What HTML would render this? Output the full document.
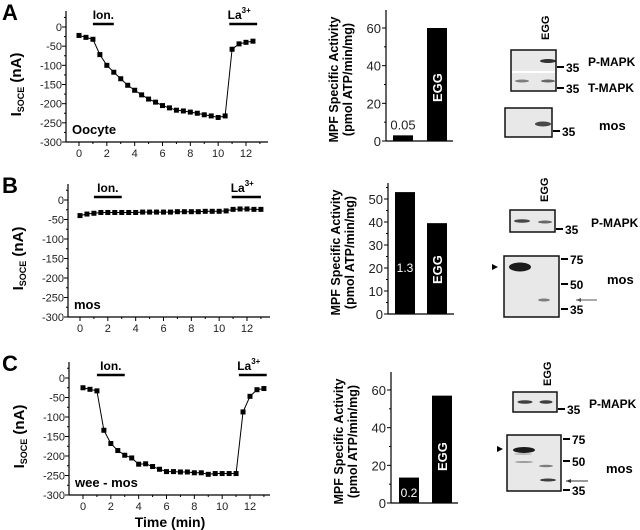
<!DOCTYPE html>
<html><head><meta charset="utf-8">
<style>
html,body{margin:0;padding:0;background:#fff;}
svg{display:block;font-family:"Liberation Sans",Arial,sans-serif;}
</style></head>
<body>
<svg id="fig" width="640" height="530" viewBox="0 0 640 530"></svg>
<script>
// ---------- DATA ----------
const timesA = [0,0.5,1,1.5,2,2.5,3,3.5,4,4.5,5,5.5,6,6.5,7,7.5,8,8.5,9,9.5,10,10.5,11,11.5,12,12.5];
const currentA = [-22,-27,-32,-72,-100,-118,-135,-152,-165,-177,-188,-196,-205,-211,-217,-219,-222,-225,-229,-232,-236,-232,-58,-44,-40,-37];
const timesB = [0,0.5,1,1.5,2,2.5,3,3.5,4,4.5,5,5.5,6,6.5,7,7.5,8,8.5,9,9.5,10,10.5,11,11.5,12,12.5,13];
const currentB = [-40,-36,-34,-32,-32,-32,-32,-32,-32,-31,-31,-31,-31,-31,-30,-30,-30,-30,-29,-29,-29,-28,-24,-23,-23,-24,-24];
const timesC = [0,0.5,1,1.5,2,2.5,3,3.5,4,4.5,5,5.5,6,6.5,7,7.5,8,8.5,9,9.5,10,10.5,11,11.5,12,12.5,13];
const currentC = [-25,-29,-33,-134,-168,-186,-198,-205,-221,-220,-227,-234,-240,-240,-241,-241,-243,-243,-247,-245,-245,-245,-245,-87,-47,-30,-27];
const yTicks = [0,-50,-100,-150,-200,-250,-300];
const xTicks = [0,2,4,6,8,10,12];
const barCats = ["control","EGG"];
const mpfA = [3,60];
const mpfB = [53,39.5];
const mpfC = [13.5,57];
const mpfLabelsA = ["0.05","EGG"];
const mpfLabelsB = ["1.3","EGG"];
const mpfLabelsC = ["0.2","EGG"];
const barTicksA = [0,20,40,60];
const barTicksB = [0,10,20,30,40,50];
const barTicksC = [0,20,40,60];

const NS="http://www.w3.org/2000/svg";
const svg=document.getElementById('fig');
function mk(tag,attrs,parent,text){const e=document.createElementNS(NS,tag);for(const k in attrs)e.setAttribute(k,attrs[k]);if(text!==undefined)e.textContent=text;(parent||svg).appendChild(e);return e;}

function trace(o){
  const g=mk('g',{});
  
  
  const X=t=>o.x0+(o.x12-o.x0)*t/12;
  const Y=v=>o.y0+(o.y300-o.y0)*(-v)/300;
  const ya=mk('line',{x1:o.ax,y1:o.y0-16,x2:o.ax,y2:o.y300,stroke:'#000','stroke-width':1.2},g);
  
  const xa=mk('line',{x1:o.ax,y1:o.y300,x2:o.xend,y2:o.y300,stroke:'#000','stroke-width':1.2},g);
  
  for(let v=25;v>=-300;v-=25){const y=Y(v);mk('line',{x1:o.ax-(v%50===0?4:2),y1:y,x2:o.ax,y2:y,stroke:'#000'},g);}
  yTicks.forEach(v=>{const t=mk('text',{x:o.ax-4,y:Y(v)+4,'text-anchor':'end','font-size':11,fill:'#222'},g,String(v));});
  for(let m=0;m<=13;m++){const x=X(m);mk('line',{x1:x,y1:o.y300,x2:x,y2:o.y300+(m%2===0?4:2),stroke:'#000'},g);}
  xTicks.forEach(v=>{const t=mk('text',{x:X(v),y:o.y300+15,'text-anchor':'middle','font-size':11,fill:'#222'},g,String(v));});
  const pts=o.t.map((t,i)=>X(t)+','+Y(o.v[i])).join(' ');
  const pl=mk('polyline',{points:pts,fill:'none',stroke:'#000','stroke-width':1},g);
  
  o.t.forEach((t,i)=>{const r=mk('rect',{x:X(t)-2.5,y:Y(o.v[i])-2.5,width:5,height:5,fill:'#000'},g);});
  const ib=mk('line',{x1:X(o.ion[0]),y1:o.barY,x2:X(o.ion[1]),y2:o.barY,stroke:'#000','stroke-width':2.5},g);
  
  const it=mk('text',{x:(X(o.ion[0])+X(o.ion[1]))/2,y:o.barY-5,'text-anchor':'middle','font-size':12,'font-weight':'bold'},g,'Ion.');
  
  const lb=mk('line',{x1:X(o.la[0]),y1:o.barY,x2:X(o.la[1]),y2:o.barY,stroke:'#000','stroke-width':2.5},g);
  
  const lt=mk('text',{x:(X(o.la[0])+X(o.la[1]))/2-4,y:o.barY-5,'text-anchor':'middle','font-size':12,'font-weight':'bold'},g);
  
  lt.appendChild(document.createTextNode('La'));mk('tspan',{'font-size':8,dy:-6},lt,'3+');
  const cl=mk('text',{x:o.ax+6,y:o.y300-8,'font-size':13,'font-weight':'bold'},g,o.cond);
  
  const pL=mk('text',{x:2,y:o.y0-7,'font-size':22,'font-weight':'bold'},g,o.id);
  
  const cy=(o.y0+o.y300)/2;
  const yt=mk('text',{transform:`translate(${o.ax-45},${cy}) rotate(-90)`,'text-anchor':'middle','font-size':15,'font-weight':'bold'},g);
  
  yt.appendChild(document.createTextNode('I'));mk('tspan',{'font-size':9,dy:3},yt,'SOCE');mk('tspan',{dy:-3},yt,' (nA)');
  return {X,Y};
}

trace({id:'A',ax:66,y0:27,y300:142,x0:79,x12:246,xend:268,t:timesA,v:currentA,ion:[1,2.5],la:[10.8,12.8],barY:24,cond:'Oocyte'});
trace({id:'B',ax:68,y0:200,y300:317,x0:80,x12:247,xend:270,t:timesB,v:currentB,ion:[1,3],la:[10.9,13],barY:197,cond:'mos'});
trace({id:'C',ax:69,y0:378,y300:495,x0:83,x12:250,xend:270,t:timesC,v:currentC,ion:[1,3],la:[11.2,13.2],barY:375,cond:'wee - mos'});
const tl=mk('text',{x:170,y:527,'text-anchor':'middle','font-size':14,'font-weight':'bold'},svg,'Time (min)');


function bars(o){
  const g=mk('g',{});
  
  const Y=v=>o.y0-(o.y0-o.yT)*v/o.vT;
  mk('line',{x1:o.ax,y1:o.top,x2:o.ax,y2:o.y0,stroke:'#000','stroke-width':1.2},g);
  mk('line',{x1:o.ax,y1:o.y0,x2:o.xend,y2:o.y0,stroke:'#000','stroke-width':1.2},g);
  const step=o.ticks[1]-o.ticks[0];
  for(let v=0;Y(v)>=o.top;v+=step/2){mk('line',{x1:o.ax-((v/step)%1===0?4:2),y1:Y(v),x2:o.ax,y2:Y(v),stroke:'#000'},g);}
  o.ticks.forEach(v=>{const t=mk('text',{x:o.ax-5,y:Y(v)+5,'text-anchor':'end','font-size':13,fill:'#222'},g,String(v));});
  barCats.forEach((c,i)=>{
    const x=o.bx[i], v=o.vals[i], y=Y(v);
    const r=mk('rect',{x:x,y:y,width:20,height:o.y0-y,fill:'#000'},g);
    
    const lab=o.labels[i];
    let t;
    if(lab==='EGG'){t=mk('text',{transform:`translate(${x+15},${o.eggY}) rotate(-90)`,'font-size':13,'font-weight':'bold',fill:'#fff'},g,lab);}
    else if(o.y0-y>22){t=mk('text',{x:x+10,y:o.valY,'text-anchor':'middle','font-size':12,fill:'#fff'},g,lab);}
    else{t=mk('text',{x:x+10,y:y-6,'text-anchor':'middle','font-size':13,fill:'#222'},g,lab);}
    
  });
  const cy=(o.top+o.y0)/2+4;
  const t1=mk('text',{transform:`translate(${o.ax-48},${cy}) rotate(-90)`,'text-anchor':'middle','font-size':12.5,'font-weight':'bold'},g,'MPF Specific Activity');
  
  const t2=mk('text',{transform:`translate(${o.ax-34},${cy}) rotate(-90)`,'text-anchor':'middle','font-size':12.5,'font-weight':'bold'},g,'(pmol ATP/min/mg)');
  
}
bars({id:'A',ax:386,top:10,y0:141,yT:28,vT:60,xend:453,bx:[393,427],vals:mpfA,labels:mpfLabelsA,ticks:barTicksA,eggY:102,valY:0});
bars({id:'B',ax:388,top:183,y0:314,yT:199,vT:50,xend:454,bx:[395,427],vals:mpfB,labels:mpfLabelsB,ticks:barTicksB,eggY:284,valY:272});
bars({id:'C',ax:391,top:372,y0:503,yT:390,vT:60,xend:458,bx:[399,432],vals:mpfC,labels:mpfLabelsC,ticks:barTicksC,eggY:471,valY:497});

// ---------- BLOTS ----------
function box(x,y,w,h,name){const r=mk('rect',{x:x,y:y,width:w,height:h,fill:'#e8e8e8',stroke:'#111','stroke-width':1.5});return r;}
function band(cx,cy,w,h,op){const e=mk('ellipse',{cx:cx,cy:cy,rx:w/2,ry:h/2,fill:'#111','fill-opacity':op});}
function txt(x,y,s,sz,bold,name,anchor){const t=mk('text',{x:x,y:y,'font-size':sz,'font-weight':bold?'bold':'normal','text-anchor':anchor||'start'},svg,s);return t;}
function marker(x,y,label){mk('line',{x1:x,y1:y,x2:x+7,y2:y,stroke:'#000','stroke-width':2});txt(x+9,y+5,label,12,true,'mw-marker-'+label);}
function eggLabel(x,y){const t=mk('text',{transform:`translate(${x},${y}) rotate(-90)`,'font-size':11,'font-weight':'bold'},svg,'EGG');}
// A
eggLabel(549,40);
box(511,50,45,41,'pmapk-tmapk-blot');
mk('line',{x1:512,y1:72,x2:555,y2:72,stroke:'#fff','stroke-width':2});
band(548,61,16,4,0.85);band(522,81,14,3,0.5);band(548,81,14,3,0.6);
marker(557,67,'35');marker(557,88,'35');
txt(588,66,'P-MAPK',12,true,'pmapk-label');txt(588,92,'T-MAPK',12,true,'tmapk-label');
box(505,108,47,29,'mos-blot-a');band(543,124,16,5,0.75);
marker(553,131,'35');txt(599,130,'mos',13,true,'mos-label');
// B
eggLabel(548,202);
box(510,210,45,22,'pmapk-blot-b');band(522,221,16,3.5,0.75);band(545,222,14,3,0.6);
marker(556,229,'35');txt(591,227,'P-MAPK',12,true,'pmapk-label');
box(504,256,55,61,'mos-blot-b');band(520,267,22,9,0.95);band(544,300,12,3,0.5);
mk('polygon',{points:'492,264 498,267 492,270',fill:'#000'});
marker(561,259,'75');marker(561,284,'50');marker(561,309,'35');
mk('line',{x1:576,y1:300,x2:597,y2:300,stroke:'#555','stroke-width':1});
mk('polygon',{points:'576,300 581,298 581,302',fill:'#555'});
txt(607,284,'mos',13,true,'mos-label');
// C
eggLabel(551,386);
box(513,392,44,20,'pmapk-blot-c');band(525,402,15,3.5,0.8);band(546,402,13,3.5,0.8);
marker(558,409,'35');txt(589,408,'P-MAPK',12,true,'pmapk-label');
box(507,435,54,56,'mos-blot-c');band(524,450,22,6,0.95);band(524,462,18,2,0.35);band(546,466,14,2.5,0.5);band(548,480,16,3,0.8);band(523,454,18,1.5,0.3);
mk('polygon',{points:'497,446 503,449 497,452',fill:'#000'});
marker(563,439,'75');marker(563,461,'50');marker(563,490,'35');
mk('line',{x1:566,y1:481,x2:588,y2:481,stroke:'#333','stroke-width':1});
mk('polygon',{points:'566,481 571,479 571,483',fill:'#333'});
txt(606,473,'mos',13,true,'mos-label');
</script>
</body></html>
